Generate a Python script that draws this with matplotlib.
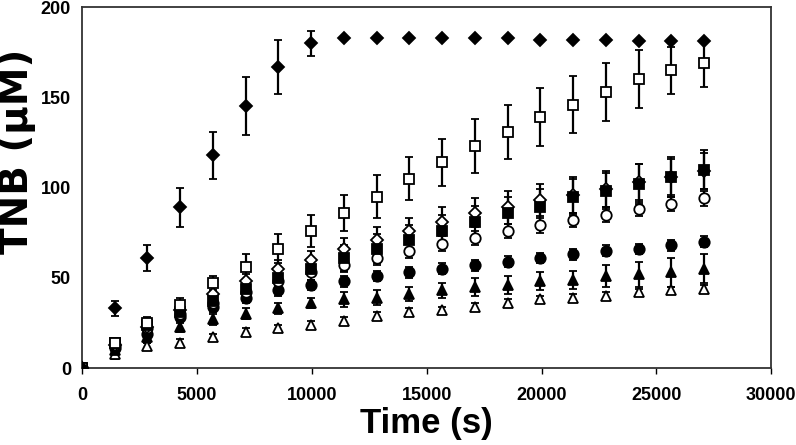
import matplotlib.pyplot as plt
import numpy as np

plt.rcParams['font.family'] = ['Liberation Sans', 'DejaVu Sans']
plt.rcParams['font.weight'] = 'bold'

# time points (s)
time = [0, 1425, 2850, 4275, 5700, 7125, 8550, 9975, 11400, 12825, 14250,
        15675, 17100, 18525, 19950, 21375, 22800, 24225, 25650, 27075]

# filled diamonds
fd_y = [0, 33, 61, 89, 118, 145, 167, 180, 183, 183, 183, 183, 183, 183, 182, 182, 182, 181, 181, 181]
fd_e = [0, 4, 7, 11, 13, 16, 15, 7, 0, 0, 0, 0, 0, 0, 0, 0, 0, 0, 1, 1]
# open squares
os_y = [0, 14, 25, 35, 47, 56, 66, 76, 86, 95, 105, 114, 123, 131, 139, 146, 153, 160, 165, 169]
os_e = [0, 2, 3, 4, 4, 7, 8, 9, 10, 12, 12, 13, 15, 15, 16, 16, 16, 16, 13, 13]
# filled squares
fs_y = [0, 14, 24, 31, 37, 44, 50, 55, 61, 66, 71, 76, 81, 86, 89, 95, 98, 102, 106, 110]
fs_e = [0, 2, 3, 4, 4, 5, 6, 6, 7, 8, 8, 9, 9, 9, 10, 10, 10, 11, 11, 11]
# open diamonds
od_y = [0, 13, 23, 32, 41, 48, 55, 60, 66, 71, 76, 81, 86, 89, 93, 96, 99, 103, 106, 109]
od_e = [0, 2, 3, 3, 4, 4, 5, 5, 6, 7, 7, 8, 8, 9, 9, 10, 10, 10, 10, 10]
# open circles
oc_y = [0, 13, 22, 30, 36, 42, 48, 53, 57, 61, 65, 69, 72, 76, 79, 82, 85, 88, 91, 94]
oc_e = [0, 2, 2, 3, 3, 3, 3, 4, 4, 4, 4, 4, 4, 4, 4, 4, 4, 4, 4, 4]
# filled circles
fc_y = [0, 11, 19, 28, 34, 39, 43, 46, 48, 51, 53, 55, 57, 59, 61, 63, 65, 66, 68, 70]
fc_e = [0, 2, 2, 3, 3, 3, 3, 3, 3, 3, 3, 3, 3, 3, 3, 3, 3, 3, 3, 3]
# filled triangles
ft_y = [0, 10, 17, 23, 27, 30, 33, 36, 38, 39, 41, 43, 45, 46, 48, 49, 51, 52, 53, 55]
ft_e = [0, 2, 3, 3, 3, 3, 3, 3, 4, 4, 4, 4, 5, 5, 5, 5, 6, 7, 8, 8]
# open triangles
ot_y = [0, 8, 12, 14, 17, 20, 22, 24, 26, 29, 31, 32, 34, 36, 38, 39, 40, 42, 43, 44]
ot_e = [0, 3, 2, 2, 2, 2, 2, 2, 2, 2, 2, 2, 2, 2, 2, 2, 2, 2, 2, 2]

series = [
    (ot_y, ot_e, '^', 'white'),
    (ft_y, ft_e, '^', 'black'),
    (fc_y, fc_e, 'o', 'black'),
    (oc_y, oc_e, 'o', 'white'),
    (od_y, od_e, 'D', 'white'),
    (fs_y, fs_e, 's', 'black'),
    (os_y, os_e, 's', 'white'),
    (fd_y, fd_e, 'D', 'black'),
]

fig = plt.figure(figsize=(7.96, 4.45), dpi=100)
ax = fig.add_axes([0.103, 0.173, 0.866, 0.811])

for y, e, m, fc in series:
    ax.errorbar(time, y, yerr=e, fmt=m, mfc=fc, mec='black', mew=1.3,
                ms=7.5 if m != 'D' else 6.5, ecolor='black', elinewidth=1.6,
                capsize=3, capthick=1.4, zorder=3)

ax.set_xlim(0, 30000)
ax.set_ylim(0, 200)
ax.set_xticks(np.arange(0, 30001, 5000))
ax.set_yticks(np.arange(0, 201, 50))
ax.tick_params(axis='x', direction='out', length=4, width=1, labelsize=13, pad=10)
ax.tick_params(axis='y', length=0, labelsize=13, pad=8)
for lab in ax.get_xticklabels() + ax.get_yticklabels():
    lab.set_fontweight('bold')
for s in ax.spines.values():
    s.set_linewidth(1.3)
    s.set_color('#333333')

ax.set_xlabel('Time (s)', fontsize=25, fontweight='bold', labelpad=2)
ax.set_ylabel('TNB (μM)', fontsize=28, fontweight='bold',
              family=['DejaVu Sans'])
ax.yaxis.set_label_coords(-0.066, 0.60)

fig.savefig('out.png', dpi=100)
